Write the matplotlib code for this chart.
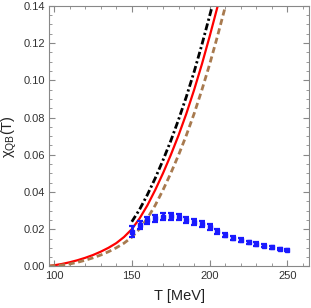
import numpy as np
import matplotlib.pyplot as plt
from matplotlib.ticker import MultipleLocator

plt.rcParams['font.family'] = ['Liberation Sans', 'DejaVu Sans']
plt.rcParams['mathtext.fontset'] = 'custom'
plt.rcParams['mathtext.rm'] = 'Liberation Sans'

# red solid curve
T_red = [97, 100, 105, 110, 115, 120, 125, 130, 135, 140, 145, 150, 155, 160,
         165, 170, 175, 180, 185, 190, 195, 200, 205, 207]
chi_red = [0.0003, 0.0006, 0.0013, 0.0022, 0.0033, 0.0046, 0.0061, 0.0079,
           0.0100, 0.0125, 0.0158, 0.0200, 0.0258, 0.0328, 0.0410, 0.0500,
           0.0598, 0.0704, 0.0820, 0.0948, 0.1086, 0.1236, 0.1394, 0.1460]

# black dash-dot curve
T_black = [150, 155, 160, 165, 170, 175, 180, 185, 190, 195, 200, 203]
chi_black = [0.0240, 0.0306, 0.0385, 0.0473, 0.0570, 0.0674, 0.0788, 0.0911,
             0.1045, 0.1191, 0.1347, 0.1440]

# brown dashed curve
T_brown = [97, 100, 105, 110, 115, 120, 125, 130, 135, 140, 145, 150, 155, 160,
           165, 170, 175, 180, 185, 190, 195, 200, 205, 210, 212]
chi_brown = [0.0002, 0.0004, 0.0007, 0.0013, 0.0022, 0.0033, 0.0046, 0.0061,
             0.0079, 0.0100, 0.0125, 0.0157, 0.0202, 0.0258, 0.0328, 0.0410,
             0.0500, 0.0598, 0.0704, 0.0820, 0.0948, 0.1086, 0.1236, 0.1394,
             0.1460]

# lattice points
T_lat = [150, 155, 160, 165, 170, 175, 180, 185, 190, 195, 200, 205, 210, 215,
         220, 225, 230, 235, 240, 245, 250]
chi_lat = [0.0187, 0.0224, 0.0248, 0.0258, 0.0268, 0.0269, 0.0266, 0.0251,
           0.0239, 0.0228, 0.0212, 0.0188, 0.0169, 0.0153, 0.0142, 0.0129,
           0.0121, 0.0110, 0.0102, 0.0095, 0.0086]
err_lat = [0.0030, 0.0022, 0.0020, 0.0019, 0.0019, 0.0018, 0.0018, 0.0017,
           0.0017, 0.0016, 0.0016, 0.0015, 0.0013, 0.0012, 0.0011, 0.0010,
           0.0009, 0.0008, 0.0007, 0.0006, 0.0005]

fig = plt.figure(figsize=(3.11, 3.08), dpi=100)
ax = fig.add_axes([0.1585, 0.135, 0.836, 0.846])

ax.plot(T_red, chi_red, color='#ff0000', lw=1.6)
l, = ax.plot(T_black, chi_black, color='black', lw=2.0)
l.set_dashes([2.5, 1.0, 0.8, 1.0])
b, = ax.plot(T_brown, chi_brown, color='#a87a4f', lw=2.0)
b.set_dashes([2.2, 1.3])

ax.errorbar(T_lat, chi_lat, yerr=err_lat, fmt='s', color='#1a1aff', ms=2.3,
            elinewidth=2.0, capsize=2.2, capthick=1.6, zorder=5)

ax.set_xlim(97, 264)
ax.set_ylim(0, 0.14)
ax.xaxis.set_major_locator(MultipleLocator(50))
ax.xaxis.set_minor_locator(MultipleLocator(10))
ax.yaxis.set_major_locator(MultipleLocator(0.02))
ax.yaxis.set_minor_locator(MultipleLocator(0.005))
ax.yaxis.set_major_formatter(plt.FormatStrFormatter('%.2f'))
ax.tick_params(which='both', direction='in', top=True, right=True,
               color='#888888', labelsize=8, labelcolor='#333333', pad=3)
ax.tick_params(which='major', length=4, width=0.8)
ax.tick_params(which='minor', length=2.2, width=0.6)
for s in ax.spines.values():
    s.set_color('#888888')
    s.set_linewidth(0.8)

ax.set_xlabel('T [MeV]', fontsize=10.5, color='#222222', labelpad=6)
ax.set_ylabel(r'χ$_{\rm QB}$(T)', fontsize=10.5, color='#222222', labelpad=3)

fig.savefig('out.png', dpi=100)
